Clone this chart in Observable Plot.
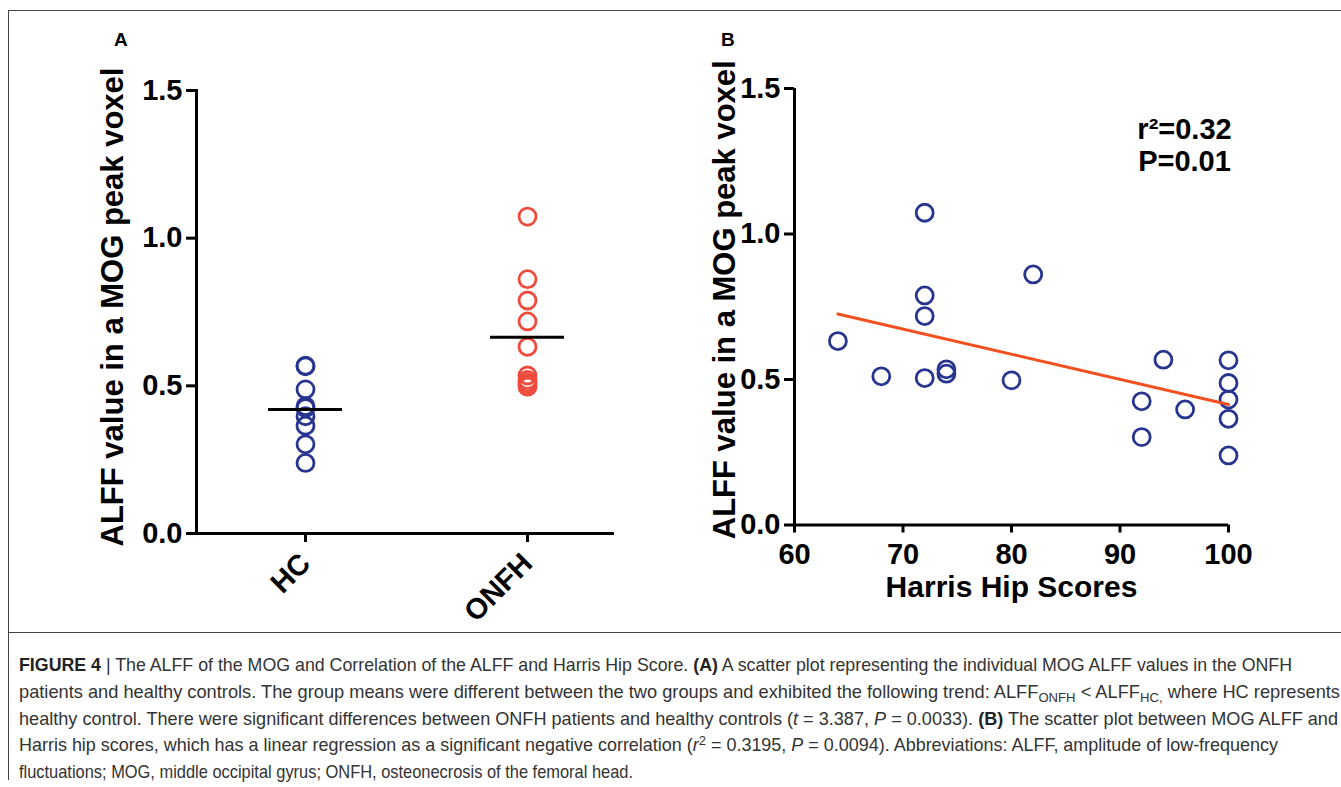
<!DOCTYPE html>
<html>
<head>
<meta charset="utf-8">
<script src="https://cdn.jsdelivr.net/npm/d3@7"></script>
<script src="https://cdn.jsdelivr.net/npm/@observablehq/plot@0.6"></script>
<style>
  html, body { margin: 0; padding: 0; background: #fff; }
  #page { position: relative; width: 1341px; height: 787px; overflow: hidden; background: #fff; }
  .abs { position: absolute; }
  .panel-letter { font-family: "Liberation Sans", Arial, sans-serif; font-weight: bold; font-size: 19px; color: #000; }
  .hline { position: absolute; height: 0; border-top: 1px solid #444; }
  .vline { position: absolute; width: 0; border-left: 1px solid #444; }
  #caption { position: absolute; left: 19px; top: 652px;
    font-family: "Liberation Sans", Arial, sans-serif;
    font-size: 18.5px; line-height: 26.8px; color: #333; white-space: nowrap; }
  #caption > div { height: 26.8px; transform-origin: 0 50%; width: max-content; }
  #caption b { color: #222; }
  #caption sub, #caption sup { font-size: 72%; line-height: 0; vertical-align: baseline; position: relative; }
  #caption sub { top: 0.3em; }
  #caption sup { top: -0.45em; }
</style>
</head>
<body>
<div id="page">
  <div class="hline" style="left:8px; top:10px; width:1333px;"></div>
  <div class="vline" style="left:8px; top:10px; height:770px;"></div>
  <div class="hline" style="left:8px; top:632px; width:1333px;"></div>
  <div id="plotA" class="abs" style="left:0px; top:0px;"></div>
  <div id="plotB" class="abs" style="left:660px; top:0px;"></div>
  <div class="abs panel-letter" style="left:114px; top:29px;">A</div>
  <div class="abs panel-letter" style="left:721px; top:29px;">B</div>
  <div id="caption">
    <div><b>FIGURE 4</b> | The ALFF of the MOG and Correlation of the ALFF and Harris Hip Score. <b>(A)</b> A scatter plot representing the individual MOG ALFF values in the ONFH</div>
    <div>patients and healthy controls. The group means were different between the two groups and exhibited the following trend: ALFF<sub>ONFH</sub> &lt; ALFF<sub>HC,</sub> where HC represents</div>
    <div>healthy control. There were significant differences between ONFH patients and healthy controls (<i>t</i> = 3.387, <i>P</i> = 0.0033). <b>(B)</b> The scatter plot between MOG ALFF and</div>
    <div>Harris hip scores, which has a linear regression as a significant negative correlation (<i>r</i><sup>2</sup> = 0.3195, <i>P</i> = 0.0094). Abbreviations: ALFF, amplitude of low-frequency</div>
    <div>fluctuations; MOG, middle occipital gyrus; ONFH, osteonecrosis of the femoral head.</div>
  </div>
</div>
<script>
// ---------- data ----------
const groups = ["HC", "ONFH"];
const hcValues   = [0.566, 0.568, 0.488, 0.431, 0.425, 0.397, 0.365, 0.302, 0.239];
const hcHarris   = [100,   94,    100,   100,   92,    96,    100,   92,    100];
const onfhValues = [1.073, 0.861, 0.789, 0.718, 0.632, 0.535, 0.520, 0.511, 0.505, 0.497];
const onfhHarris = [72,    82,    72,    72,    64,    74,    74,    68,    72,    80];
const yTicks = [0, 0.5, 1.0, 1.5];
const xTicksB = [60, 70, 80, 90, 100];
const yLabel = "ALFF value in a MOG peak voxel";
const xLabelB = "Harris Hip Scores";
const rSquared = "0.32";
const pValue = "0.01";

const navy = "#27358F";
const red = "#EF4C3D";
const fitColor = "#F4501F";

const font = "'Liberation Sans', Arial, Helvetica, sans-serif";

const dataA = [
  ...hcValues.map(v => ({group: "HC", value: v})),
  ...onfhValues.map(v => ({group: "ONFH", value: v}))
];
const means = groups.map(g => ({group: g, value: d3.mean(dataA.filter(d => d.group === g), d => d.value)}));
const dataB = [
  ...hcValues.map((v, i) => ({harris: hcHarris[i], value: v})),
  ...onfhValues.map((v, i) => ({harris: onfhHarris[i], value: v}))
];

const baseStyle = {background: "transparent", fontFamily: font, fontWeight: "bold", fontSize: "29px", color: "#000", overflow: "visible"};

// ---------- Panel A ----------
const plotA = Plot.plot({
  width: 660, height: 640,
  marginLeft: 196, marginRight: 46, marginTop: 90, marginBottom: 107,
  style: baseStyle,
  x: {type: "band", domain: groups, range: [194, 638], padding: 0},
  y: {domain: [0, 1.5]},
  color: {domain: groups, range: [navy, red]},
  marks: [
    Plot.frame({anchor: "left", strokeWidth: 3}),
    Plot.ruleY([0], {strokeWidth: 3}),
    Plot.axisY({ticks: yTicks, tickFormat: d3.format(".1f"), tickSize: 10, tickPadding: 4, strokeWidth: 3, label: null, fontSize: 29, fontWeight: "bold"}),
    Plot.axisX({tickSize: 9, tickRotate: -45, tickPadding: 16, strokeWidth: 3, label: null, fontSize: 29, fontWeight: "bold"}),
    Plot.dot(dataA, {x: "group", y: "value", r: 8.5, stroke: "group", strokeWidth: 2.8, fill: "none"}),
    Plot.tickY(means, {x: "group", y: "value", strokeWidth: 3, insetLeft: 74, insetRight: 74}),
    Plot.text([yLabel], {text: d => d, frameAnchor: "left", textAnchor: "middle", rotate: -90, dx: -83, dy: -5, fontSize: 31, fontWeight: "bold"})
  ]
});
document.getElementById("plotA").appendChild(plotA);

// ---------- Panel B ----------
const plotB = Plot.plot({
  width: 640, height: 640,
  marginLeft: 134, marginRight: 72, marginTop: 88, marginBottom: 115.5,
  style: baseStyle,
  x: {domain: [60, 100]},
  y: {domain: [0, 1.5]},
  marks: [
    Plot.ruleX([60], {strokeWidth: 3}),
    Plot.ruleY([0], {strokeWidth: 3}),
    Plot.axisY({ticks: yTicks, tickFormat: d3.format(".1f"), tickSize: 10, tickPadding: 4, strokeWidth: 3, label: null, fontSize: 29, fontWeight: "bold"}),
    Plot.axisX({ticks: xTicksB, tickSize: 8, tickPadding: 10, strokeWidth: 3, label: null, fontSize: 29, fontWeight: "bold"}),
    Plot.dot(dataB, {x: "harris", y: "value", r: 8.5, stroke: navy, strokeWidth: 2.8, fill: "none"}),
    Plot.linearRegressionY(dataB, {x: "harris", y: "value", stroke: fitColor, strokeWidth: 3, ci: 0}),
    Plot.text([yLabel], {text: d => d, frameAnchor: "left", textAnchor: "middle", rotate: -90, dx: -69, dy: -7, fontSize: 31, fontWeight: "bold"}),
    Plot.text([xLabelB], {text: d => d, frameAnchor: "bottom", textAnchor: "middle", dy: 72, fontSize: 30, fontWeight: "bold"}),
    Plot.text([`r²=${rSquared}\nP=${pValue}`], {text: d => d, frameAnchor: "top-right", textAnchor: "middle", dx: -44, dy: 56, lineAnchor: "middle", lineHeight: 1.1, fontSize: 29, fontWeight: "bold"})
  ]
});
document.getElementById("plotB").appendChild(plotB);

// caption layout: the reference uses a condensed face, so each line is compressed to its width there
const captionLineEnds = [1292, 1340, 1338, 1278, 633];
const captionLeft = 19;
document.querySelectorAll("#caption > div").forEach((line, i) => {
  const w = line.getBoundingClientRect().width;
  if (w > 0) line.style.transform = `scaleX(${(captionLineEnds[i] - captionLeft) / w})`;
});
</script>
</body>
</html>
